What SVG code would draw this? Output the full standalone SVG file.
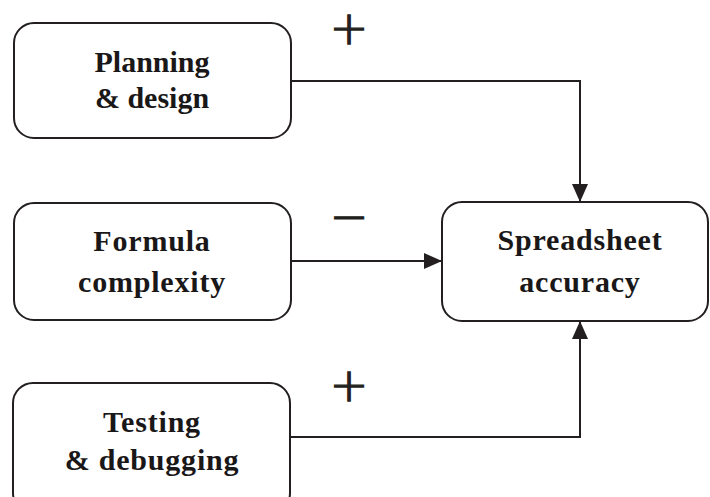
<svg xmlns="http://www.w3.org/2000/svg" width="710" height="497" viewBox="0 0 710 497">
<style>
.box{fill:#fff;stroke:#231f20;stroke-width:2}
.lbl{font-family:"Liberation Serif","Times New Roman",serif;font-weight:bold;font-size:30px;fill:#1a1718;text-anchor:middle}
.wide{letter-spacing:0.8px}
.sign{font-family:"DejaVu Sans",sans-serif;font-weight:200;font-size:46px;fill:#231f20;stroke:#231f20;stroke-width:1.4;text-anchor:middle}
.con{fill:none;stroke:#231f20;stroke-width:2}
</style>
<defs>
<marker id="arr" viewBox="0 0 18 16" refX="18" refY="8" markerWidth="18" markerHeight="16" markerUnits="userSpaceOnUse" orient="auto">
<path d="M0,0 L18,8 L0,16 z" fill="#231f20"/>
</marker>
</defs>
<rect width="710" height="497" fill="#fff"/>
<g id="connectors">
<path class="con" d="M291,81 H580 V202" marker-end="url(#arr)"/>
<path class="con" d="M291,261 H442" marker-end="url(#arr)"/>
<path class="con" d="M290,437 H580 V321" marker-end="url(#arr)"/>
<text class="sign" x="349" y="44">+</text>
<text class="sign" x="349" y="232">−</text>
<text class="sign" x="349" y="401">+</text>
</g>
<g id="planning">
<rect class="box" x="14" y="23" width="277" height="115" rx="20"/>
<text class="lbl" x="152" y="72">Planning</text>
<text class="lbl" x="152" y="108">&amp; design</text>
</g>
<g id="formula">
<rect class="box" x="14" y="203" width="277" height="117" rx="20"/>
<text class="lbl wide" x="152" y="251">Formula</text>
<text class="lbl wide" x="152" y="292">complexity</text>
</g>
<g id="accuracy">
<rect class="box" x="442" y="202" width="266" height="119" rx="20"/>
<text class="lbl wide" x="580" y="250">Spreadsheet</text>
<text class="lbl wide" x="580" y="292">accuracy</text>
</g>
<g id="testing">
<rect class="box" x="13" y="383" width="277" height="130" rx="20"/>
<text class="lbl wide" x="152" y="432">Testing</text>
<text class="lbl wide" x="152" y="470">&amp; debugging</text>
</g>
</svg>
